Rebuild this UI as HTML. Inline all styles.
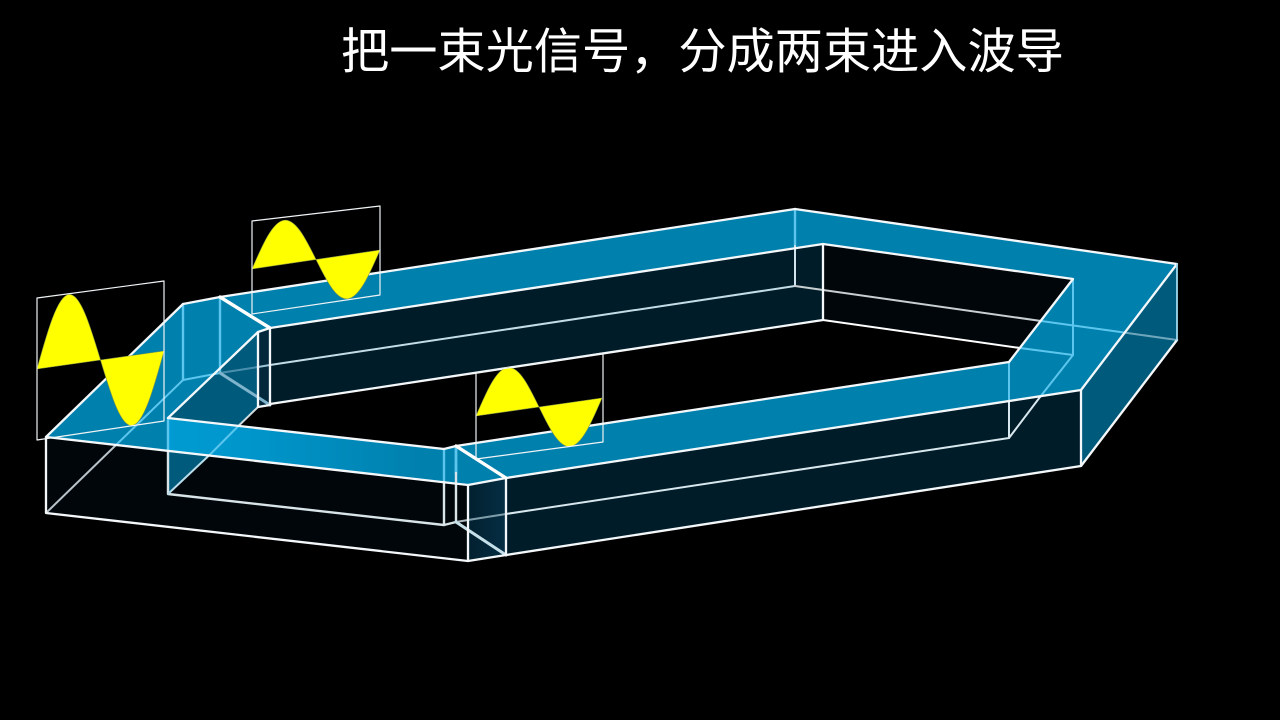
<!DOCTYPE html>
<html lang="zh">
<head>
<meta charset="utf-8">
<style>
html,body{margin:0;padding:0;background:#000;width:1280px;height:720px;overflow:hidden}
svg{position:absolute;left:0;top:0}
#t{position:absolute;left:341px;top:12px;font:400 48.2px/70px "Noto Sans CJK SC","WenQuanYi Zen Hei",sans-serif;color:#fff;white-space:nowrap}
</style>
</head>
<body>
<svg width="1280" height="720" viewBox="0 0 1280 720" fill="none" stroke-linejoin="round" stroke-linecap="round">
<defs>
<linearGradient id="g" gradientUnits="userSpaceOnUse" x1="168" y1="0" x2="420" y2="0">
<stop offset="0" stop-color="#009bd2"/><stop offset="0.35" stop-color="#0095ca"/><stop offset="1" stop-color="#0080ad"/>
</linearGradient>
<linearGradient id="j" gradientUnits="userSpaceOnUse" x1="468" y1="0" x2="506" y2="0">
<stop offset="0" stop-color="#02202f"/><stop offset="1" stop-color="#052e44"/>
</linearGradient>
</defs>
<rect width="1280" height="720" fill="#000"/>
<!-- walls -->
<g stroke="none">
<polygon points="46,437 468,485 468,561 46,513" fill="#00060a"/>
<polygon points="168,418 444,449 444,525 168,494" fill="#00060a"/>
<polygon points="823,244 1073,279 1073,355 823,320" fill="#00060a"/>
<polygon points="270,327 823,244 823,320 270,404" fill="#001c28"/>
<polygon points="506,478 1081,390 1081,466 506,555" fill="#001c28"/>
<polygon points="1177,264 1081,390 1081,466 1177,340" fill="#005a7c"/>
<polygon points="468,485 506,478 506,555 468,561" fill="url(#j)"/>
<polygon points="258,332 270,328 270,405 258,407" fill="#03283c"/>
<!-- top faces -->
<polygon points="220,297 795,209 1177,264 1081,390 506,478 456,446 1009,362 1073,279 823,244 270,327" fill="#0080ad"/>
<polygon points="46,437 183,304 220,297 270,327 258,332 168,418 444,449 456,446 506,478 468,485" fill="#0080ad"/>
<polygon points="168,418 444,449 468,485 168,451" fill="url(#g)"/>
<polygon points="444,449 456,446 506,478 468,485" fill="#0080ad"/>
<!-- see-through inner side -->
<polygon points="168,418 258,332 258,407 238.4,426" fill="#005a7c"/>
<polygon points="168,451 209.5,455.7 168,494" fill="#005a7c"/>
</g>
<!-- hidden lines -->
<g stroke-width="2">
<path d="M46,513 L116,445" stroke="#b9c4c8"/>
<path d="M116,445 L183,380 L220,373" stroke="#5cc6ee"/>
<path d="M183,304 V380 M220,297 V373" stroke="#5cc6ee" stroke-width="2.4"/>
<path d="M220,373 L258,367" stroke="#4a90ae"/>
<path d="M258,367 L270,365" stroke="#9cc4d4"/>
<path d="M270,365 L795,286" stroke="#c4dce6"/>
<path d="M795,209 V246" stroke="#5cc6ee" stroke-width="2.4"/>
<path d="M795,246 V286" stroke="#cfe4ec"/>
<path d="M795,286 L1041,321" stroke="#c8cfd2"/>
<path d="M1041,321 L1124,332.5" stroke="#5cc6ee"/>
<path d="M1124,332.5 L1177,340" stroke="#6ea6bc"/>
<path d="M823,320 L1020,348" stroke="#fff"/>
<path d="M1020,348 L1073,355 V279" stroke="#5cc6ee"/>
<path d="M1073,355 L1040,397" stroke="#5cc6ee"/>
<path d="M1040,397 L1009,438" stroke="#d8e8ee"/>
<path d="M1009,362 V401" stroke="#5cc6ee"/>
<path d="M1009,401 V438 L506,514" stroke="#d8e8ee"/>
<path d="M506,514 L468,520" stroke="#7f9eaa"/>
<path d="M468,520 L456,522" stroke="#b0bcc2"/>
<path d="M168,418 V451" stroke="#5cc6ee" stroke-width="2.4"/>
<path d="M168,451 V494 L444,525 L456,522" stroke="#d8e4e8" stroke-width="2.4"/>
<path d="M444,449 V482" stroke="#5cc6ee" stroke-width="2.4"/>
<path d="M444,482 V525" stroke="#d8e4e8" stroke-width="2.4"/>
<path d="M456,446 V473" stroke="#5cc6ee" stroke-width="2.8"/>
<path d="M456,473 V522" stroke="#d8e4e8" stroke-width="2.4"/>
<path d="M258,407 L238.4,426" stroke="#d0dde2"/>
<path d="M238.4,426 L209.5,455" stroke="#5cc6ee"/>
<path d="M209.5,455 L168,494" stroke="#b8dcea"/>
<path d="M220,373 L270,405" stroke="#7fb4cc" stroke-width="3"/>
<path d="M456,522 L506,555" stroke="#c6e0ea" stroke-width="3"/>
</g>
<!-- visible edges -->
<g stroke="#f4f8fa" stroke-width="2.3">
<path d="M46,437 L183,304 L220,297"/>
<path d="M220,297 L795,209 L1177,264 L1081,390 L506,478 L468,485 L46,437 V513 L468,561 L506,555 L1081,466 L1177,340"/>
<path d="M1081,390 V466"/>
<path d="M1177,264 V340" stroke="#9fd8ee" stroke-width="1.8"/>
<path d="M270,328 L823,244 L1073,279 L1009,362 L456,446 L444,449 L168,418 L258,332 L270,328"/>
<path d="M823,244 V320 M270,404 L823,320"/>
<path d="M258,332 V407 L270,405 V328"/>
<path d="M468,485 V561 M506,478 V555"/>
<path d="M220,297 L270,328 M456,446 L506,478" stroke="#fff" stroke-width="3.4"/>
</g>
<!-- waves -->
<g fill="#ffff00" stroke="#8a9a40" stroke-width="0.6">
<path vector-effect="non-scaling-stroke" transform="matrix(127,-18,0,-70,37,369)" d="M0 0C.0815 .5123 .1595 1 .25 1C.3405 1 .4185 .5123 .5 0C.5815 -.5123 .6595 -1 .75 -1C.8405 -1 .9185 -.5123 1 0Z"/>
<path vector-effect="non-scaling-stroke" transform="matrix(128,-19,0,-44,252,269)" d="M0 0C.0815 .5123 .1595 1 .25 1C.3405 1 .4185 .5123 .5 0C.5815 -.5123 .6595 -1 .75 -1C.8405 -1 .9185 -.5123 1 0Z"/>
<path vector-effect="non-scaling-stroke" transform="matrix(126,-18,0,-44,476,416)" d="M0 0C.0815 .5123 .1595 1 .25 1C.3405 1 .4185 .5123 .5 0C.5815 -.5123 .6595 -1 .75 -1C.8405 -1 .9185 -.5123 1 0Z"/>
</g>
<!-- frames -->
<g stroke="#f0f4f6" stroke-width="1.2">
<polygon points="37,298 164,281 164,421 37,440"/>
<polygon points="252,221 380,206 380,295 252,314"/>
<polygon points="476,373 603,353 603,442 476,459"/>
</g>
</svg>
<div id="t">把一束光信号，分成两束进入波导</div>
</body>
</html>
